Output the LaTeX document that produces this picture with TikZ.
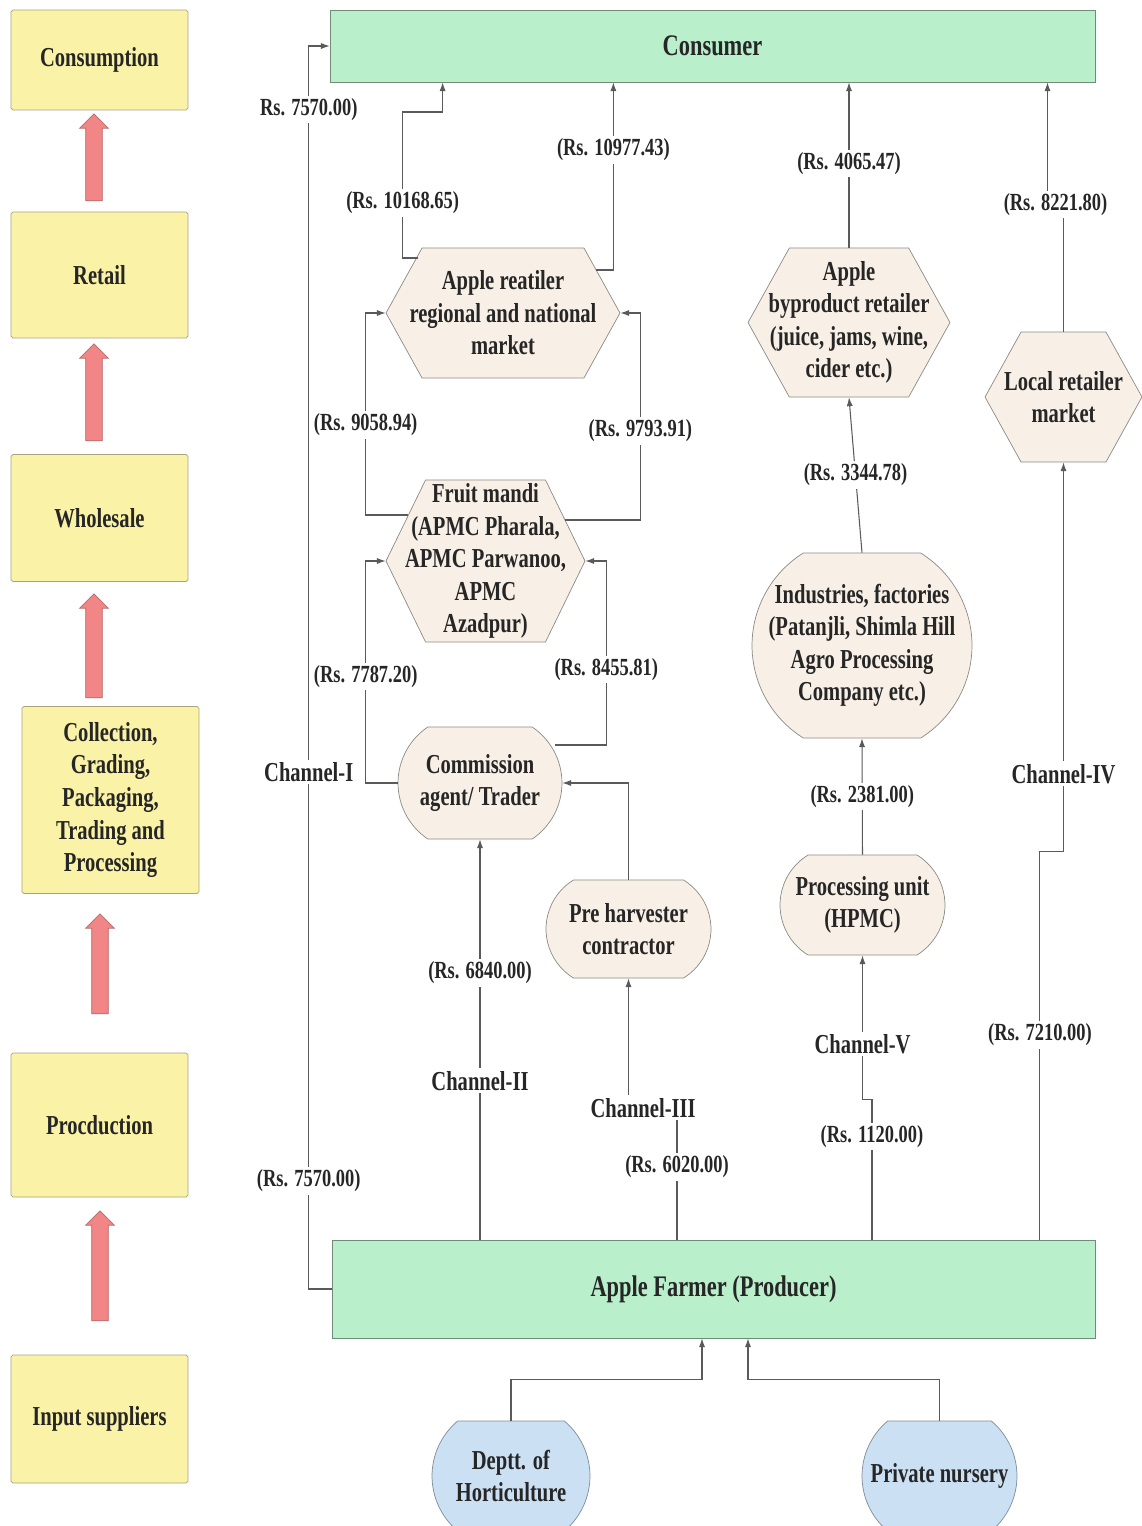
\documentclass[tikz,border=0pt]{standalone}
\usepackage{fontspec}
\setmainfont{Liberation Serif}[FakeStretch=0.75]
\usetikzlibrary{positioning,shapes.misc,shapes.symbols,shapes.arrows,arrows.meta}

\definecolor{stagefill}{HTML}{FAF2A6}
\definecolor{stageline}{HTML}{A8A47C}
\definecolor{greenfill}{HTML}{B9EFCB}
\definecolor{greenline}{HTML}{6F8C78}
\definecolor{beige}{HTML}{F8F0E6}
\definecolor{beigeline}{HTML}{8C8A86}
\definecolor{bluefill}{HTML}{CCE0F4}
\definecolor{blueline}{HTML}{7F8C9A}
\definecolor{redarr}{HTML}{F28585}
\definecolor{redline}{HTML}{B46C6C}
\definecolor{linegray}{HTML}{5A5A5A}

\newcommand\boxfont{\fontsize{15.6}{18.5}\selectfont\bfseries}
\newcommand\labfont{\fontsize{14}{16}\selectfont\bfseries}

\tikzset{
  stage/.style={rectangle, draw=stageline, fill=stagefill, rounded corners=1pt, minimum width=3.54cm, align=center, font=\boxfont, text=black!85},
  upblock/.style={single arrow, shape border rotate=90, draw=redline, fill=redarr, inner sep=0.16cm, single arrow head extend=0.12cm, minimum height=#1},
  greenbox/.style={rectangle, draw=greenline, fill=greenfill, font=\fontsize{17}{20}\selectfont\bfseries, text=black!85},
  hexa/.style={signal, signal to=west and east, signal pointer angle=122, draw=beigeline, fill=beige, inner sep=0pt},
  rbox/.style={rounded rectangle, draw=beigeline, fill=beige, inner sep=0pt},
  conn/.style={draw=linegray, line width=0.6pt, -{Latex[length=5pt,width=3.5pt]}},
  lab/.style={fill=white, font=\labfont, text=black!85, inner sep=1.5pt},
  chan/.style={lab, font=\boxfont},
  every label/.style={align=center, font=\boxfont, text=black!85}
}

\begin{document}
\begin{tikzpicture}[x=0.02cm, y=-0.02cm]
\fill[white] (0,0) rectangle (1142,1526);
\useasboundingbox (0,0) rectangle (1142,1526);

% stages of the chain
\node[stage, minimum height=2.0cm]  (cons) at (99.5,60)   {Consumption};
\node[stage, minimum height=2.52cm] (ret)  at (99.5,275)  {Retail};
\node[stage, minimum height=2.54cm] (whol) at (99.5,518)  {Wholesale};
\node[stage, minimum height=3.74cm] (coll) at (110.5,800) {Collection,\\Grading,\\Packaging,\\Trading and\\Processing};
\node[stage, minimum height=2.88cm] (prod) at (99.5,1125) {Procduction};
\node[stage, minimum height=2.56cm] (inp)  at (99.5,1419) {Input suppliers};

\node[upblock=1.74cm] (u1) at (94,161.5) {};
\node[upblock=1.94cm] (u2) at (94,396.5) {};
\node[upblock=2.08cm] (u3) at (94,650) {};
\node[upblock=2.0cm]  (u4) at (100,968) {};
\node[upblock=2.2cm]  (u5) at (100,1270) {};

% actors
\node[greenbox, minimum width=15.3cm, minimum height=1.44cm] (consumer) at (712.5,46) {Consumer};
\node[greenbox, minimum width=15.26cm, minimum height=1.96cm] (farmer) at (713.5,1289) {Apple Farmer (Producer)};

\node[hexa, minimum width=4.68cm, minimum height=2.6cm, label={center:{Apple reatiler\\regional and national\\market}}] (aret) at (503,313) {};
\node[hexa, signal pointer angle=128, minimum width=3.98cm, minimum height=3.24cm, label={center:{Fruit mandi\\(APMC Pharala,\\APMC Parwanoo,\\APMC\\Azadpur)}}] (mandi) at (485.5,561) {};
\node[hexa, minimum width=4.04cm, minimum height=2.98cm, label={center:{Apple\\byproduct retailer\\(juice, jams, wine,\\cider etc.)}}] (bypr) at (849,322.5) {};
\node[hexa, minimum width=3.14cm, minimum height=2.6cm, label={center:{Local retailer\\market}}] (local) at (1063.5,397) {};

\node[rbox, rounded rectangle arc length=112, minimum width=3.28cm, minimum height=2.24cm, label={center:{Commission\\agent/ Trader}}] (agent) at (480,783) {};
\node[rbox, rounded rectangle arc length=117, minimum width=3.3cm, minimum height=1.96cm, label={center:{Pre harvester\\contractor}}] (preh) at (628.5,929) {};
\node[rbox, rounded rectangle arc length=116, minimum width=4.4cm, minimum height=3.7cm, label={center:{Industries, factories\\(Patanjli, Shimla Hill\\Agro Processing\\Company etc.)}}] (ind) at (862,645.5) {};
\node[rbox, rounded rectangle arc length=117, minimum width=3.3cm, minimum height=2.0cm, label={center:{Processing unit\\(HPMC)}}] (proc) at (862.5,905) {};
\node[rbox, rounded rectangle arc length=100, fill=bluefill, draw=blueline, minimum width=3.16cm, minimum height=2.2cm, label={center:{Deptt. of\\Horticulture}}] (dept) at (511,1476) {};
\node[rbox, rounded rectangle arc length=100, fill=bluefill, draw=blueline, minimum width=3.1cm, minimum height=2.2cm, label={center:{Private nursery}}] (nurs) at (939.5,1476) {};

% Channel-I
\draw[conn] (farmer.west) -- ++(-23,0) coordinate (c1)
  -- node[lab,pos=.087]{(Rs. 7570.00)} node[chan,pos=.416]{Channel-I} node[lab,pos=.949]{Rs. 7570.00)} (c1 |- consumer.west) -- (consumer.west);

% Channel-II
\draw[conn] (farmer.north -| agent.south) -- node[chan,pos=.397]{Channel-II} node[lab,pos=.666]{(Rs. 6840.00)} (agent.south);
\draw[conn] (agent.west) -- ++(-32,0) coordinate (a1) -- node[lab,pos=.48]{(Rs. 7787.20)} (a1 |- mandi.west) -- (mandi.west);
\draw[conn] ([xshift=-0.14cm,yshift=0.76cm]agent.east) -- ++(51,0) coordinate (a2) -- node[lab,pos=.41]{(Rs. 8455.81)} (a2 |- mandi.east) -- (mandi.east);
\draw[conn] ([xshift=0.44cm,yshift=0.92cm]mandi.west) -- ++(-42,0) coordinate (m1) -- node[lab,pos=.446]{(Rs. 9058.94)} (m1 |- aret.west) -- (aret.west);
\draw[conn] ([xshift=-0.4cm,yshift=0.82cm]mandi.east) -- ++(75,0) coordinate (m2) -- node[lab,pos=.43]{(Rs. 9793.91)} (m2 |- aret.east) -- (aret.east);
\draw[conn] ([xshift=0.64cm,yshift=1.1cm]aret.west) -- ++(-15,0) -- node[lab,pos=.377]{(Rs. 10168.65)} ++(0,-146) -- ++(40,0) coordinate (r1) -- (r1 |- consumer.south);
\draw[conn] ([xshift=-0.48cm,yshift=0.86cm]aret.east) -- ++(17,0) coordinate (r2) -- node[lab,pos=.64]{(Rs. 10977.43)} (r2 |- consumer.south);

% Channel-III
\draw[conn] ([xshift=-0.73cm]farmer.north) -- node[lab,pos=.55]{(Rs. 6020.00)} ++(0,-132) coordinate (c3) -- node[chan,pos=.7]{Channel-III} (c3 -| preh.south) -- (preh.south);
\draw[conn] (preh.north) |- (agent.east);

% Channel-IV
\draw[conn] ([xshift=6.53cm]farmer.north) -- node[lab,pos=.528]{(Rs. 7210.00)} ++(0,-388) coordinate (c4) -- (c4 -| local.south) -- node[chan,pos=.2]{Channel-IV} (local.south);
\draw[conn] (local.north) -- ++(0,-127) -- node[lab]{(Rs. 8221.80)} ++(-16,0) coordinate (c6) -- (c6 |- consumer.south);

% Channel-V
\draw[conn] ([xshift=3.17cm]farmer.north) -- node[lab,pos=.736]{(Rs. 1120.00)} ++(0,-140) coordinate (c5) -- (c5 -| proc.south) -- node[chan,pos=.386]{Channel-V} (proc.south);
\draw[conn] (proc.north) -- node[lab]{(Rs. 2381.00)} (ind.south);
\draw[conn] (ind.north) -- node[lab]{(Rs. 3344.78)} (bypr.south);
\draw[conn] (bypr.north) -- node[lab,pos=.51]{(Rs. 4065.47)} (bypr.north |- consumer.south);

% inputs
\draw[conn] (dept.north) -- ++(0,-41) -| ([xshift=-0.23cm]farmer.south);
\draw[conn] (nurs.north) -- ++(0,-41) -| ([xshift=0.69cm]farmer.south);
\end{tikzpicture}
\end{document}
